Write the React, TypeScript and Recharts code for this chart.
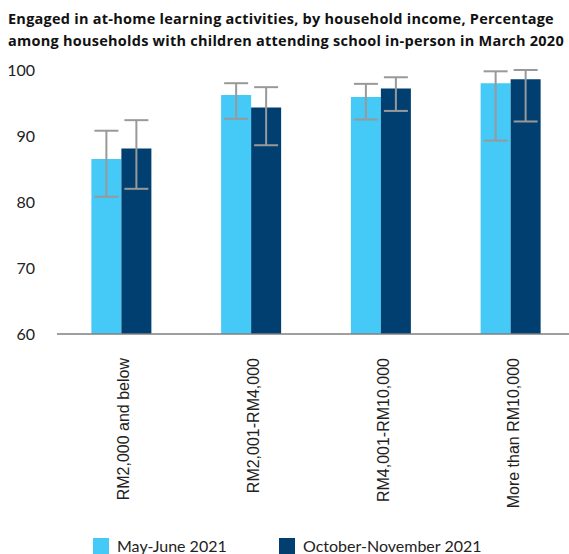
import React from 'react';
import { BarChart, Bar, XAxis, YAxis, ErrorBar } from 'recharts';

const categories = ['RM2,000 and below', 'RM2,001-RM4,000', 'RM4,001-RM10,000', 'More than RM10,000'];
const seriesNames = ['May-June 2021', 'October-November 2021'];
const seriesColors = ['#45C9F6', '#003F6F'];

const mayJune = [86.5, 96.2, 95.9, 98.0];
const mayJuneLow = [80.8, 92.6, 92.5, 89.3];
const mayJuneHigh = [90.8, 98.0, 97.9, 99.8];

const octNov = [88.1, 94.3, 97.2, 98.6];
const octNovLow = [82.0, 88.6, 93.8, 92.2];
const octNovHigh = [92.4, 97.4, 98.9, 100.0];

const yTicks = [60, 70, 80, 90, 100];

const data = categories.map((name, i) => ({
    name,
    mayJune: mayJune[i],
    mayJuneErr: [mayJune[i] - mayJuneLow[i], mayJuneHigh[i] - mayJune[i]],
    octNov: octNov[i],
    octNovErr: [octNov[i] - octNovLow[i], octNovHigh[i] - octNov[i]],
}));

const RotatedTick = (props: any) => {
    const { x, y, payload } = props;
    return (
        <text
            transform={`translate(${x + 2},${y + 24}) rotate(-90)`}
            textAnchor="end"
            dy="0.35em"
            fontFamily="'Liberation Sans', Arial, sans-serif"
            fontSize={16}
            fill="#222"
        >
            {payload.value}
        </text>
    );
};

export default function App() {
    return (
        <div style={{ position: 'fixed', left: 0, top: 0, width: 569, height: 554, overflow: 'hidden', background: '#fff' }}>
            <div
                style={{
                    position: 'absolute',
                    left: 8,
                    top: 8,
                    width: 565,
                    fontFamily: "'Open Sans', sans-serif",
                    fontWeight: 700,
                    fontSize: 14.5,
                    letterSpacing: 0.25,
                    lineHeight: '22px',
                    color: '#111',
                    whiteSpace: 'nowrap',
                }}
            >
                <div>Engaged in at-home learning activities, by household income, Percentage</div>
                <div>among households with children attending school in-person in March 2020</div>
            </div>

            <div style={{ position: 'absolute', left: 8, top: 58 }}>
                <BarChart
                    width={568}
                    height={470}
                    data={data}
                    margin={{ top: 12, right: 0, left: 0, bottom: 0 }}
                    barCategoryGap="26.5%"
                    barGap={0}
                >
                    <XAxis
                        dataKey="name"
                        height={194}
                        tickLine={false}
                        tickSize={0}
                        tickMargin={0}
                        interval={0}
                        stroke="#7f7f7f"
                        strokeWidth={1.5}
                        tick={<RotatedTick />}
                    />
                    <YAxis
                        width={49}
                        domain={[60, 100]}
                        ticks={yTicks}
                        axisLine={false}
                        tickLine={false}
                        tickSize={0}
                        tickMargin={22}
                        allowDataOverflow
                        tick={{ fill: '#222', fontSize: 16, fontFamily: 'Lato, sans-serif' }}
                    />
                    <Bar dataKey="mayJune" fill={seriesColors[0]} isAnimationActive={false}>
                        <ErrorBar dataKey="mayJuneErr" width={12} stroke="#999" strokeWidth={2} direction="y" />
                    </Bar>
                    <Bar dataKey="octNov" fill={seriesColors[1]} isAnimationActive={false}>
                        <ErrorBar dataKey="octNovErr" width={12} stroke="#999" strokeWidth={2} direction="y" />
                    </Bar>
                </BarChart>
            </div>

            {seriesNames.map((s, i) => (
                <div key={s} style={{ position: 'absolute', left: i === 0 ? 93 : 279, top: 536, display: 'flex' }}>
                    <div style={{ width: 16, height: 16, background: seriesColors[i], marginTop: 2, marginRight: 8 }} />
                    <div style={{ fontFamily: 'Lato, sans-serif', fontSize: 16, lineHeight: '20px', color: '#222' }}>{s}</div>
                </div>
            ))}
        </div>
    );
}
